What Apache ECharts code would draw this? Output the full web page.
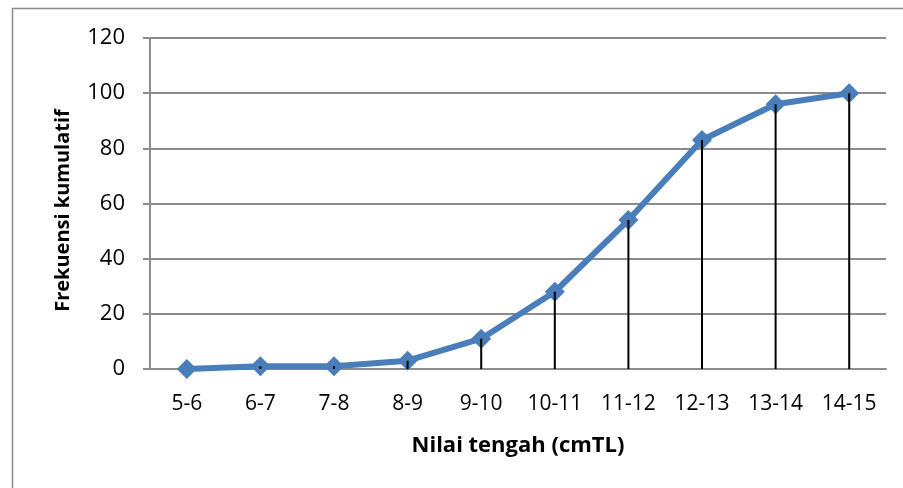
<!DOCTYPE html>
<html>
<head>
<meta charset="utf-8">
<script src="https://cdn.jsdelivr.net/npm/echarts@6/dist/echarts.min.js"></script>
<style>
  html, body { margin: 0; padding: 0; background: #fff; }
  #chart { width: 903px; height: 488px; }
</style>
</head>
<body>
<div id="chart"></div>
<script>
// Class intervals (cmTL) and cumulative frequencies
const categories = ['5-6', '6-7', '7-8', '8-9', '9-10', '10-11', '11-12', '12-13', '13-14', '14-15'];
const cumulative = [0, 1, 1, 3, 11, 28, 54, 83, 96, 100];
const yTicks = { min: 0, max: 120, step: 20 };

const FONT = '"Open Sans"';
const chart = echarts.init(document.getElementById('chart'), null, { renderer: 'canvas' });

chart.setOption({
  animation: false,
  backgroundColor: '#fff',
  graphic: [{
    type: 'rect',
    shape: { x: 12.5, y: 8.5, width: 910, height: 500 },
    style: { fill: 'none', stroke: '#8c8c8c', lineWidth: 1.5 },
    silent: true
  }],
  grid: { left: 150, right: 17, top: 38, bottom: 119 },
  xAxis: {
    type: 'category',
    data: categories,
    boundaryGap: true,
    name: 'Nilai tengah (cmTL)',
    nameLocation: 'middle',
    nameGap: 66,
    nameTextStyle: { fontFamily: FONT, fontSize: 22, fontWeight: 'bold', color: '#000' },
    axisLine: { lineStyle: { color: '#8c8c8c', width: 2 } },
    axisTick: { show: false },
    axisLabel: { fontFamily: FONT, fontSize: 21, color: '#000', margin: 25, interval: 0 }
  },
  yAxis: {
    type: 'value',
    min: yTicks.min,
    max: yTicks.max,
    interval: yTicks.step,
    name: 'Frekuensi kumulatif',
    nameLocation: 'middle',
    nameGap: 77,
    nameTextStyle: { fontFamily: FONT, fontSize: 20, fontWeight: 'bold', color: '#000', padding: [0, 14, 0, 0] },
    axisLine: { show: true, lineStyle: { color: '#8c8c8c', width: 2 } },
    axisTick: { show: true, length: 7, lineStyle: { color: '#8c8c8c', width: 2 } },
    axisLabel: { fontFamily: FONT, fontSize: 22, color: '#000', margin: 25 },
    splitLine: { lineStyle: { color: '#8c8c8c', width: 2 } }
  },
  series: [
    {
      type: 'line',
      data: cumulative,
      smooth: false,
      symbol: 'diamond',
      symbolSize: 20,
      lineStyle: { color: '#4a7ebb', width: 6 },
      itemStyle: { color: '#4a7ebb' },
      z: 3
    },
    {
      // drop lines from each point down to the category axis
      type: 'custom',
      data: cumulative.map((v, i) => [i, v]),
      encode: { x: 0, y: 1 },
      z: 4,
      silent: true,
      renderItem: function (params, api) {
        const top = api.coord([api.value(0), api.value(1)]);
        const base = api.coord([api.value(0), 0]);
        return {
          type: 'line',
          shape: { x1: top[0], y1: top[1], x2: base[0], y2: base[1] },
          style: { stroke: '#000', lineWidth: 2 }
        };
      }
    }
  ]
});
</script>
</body>
</html>
